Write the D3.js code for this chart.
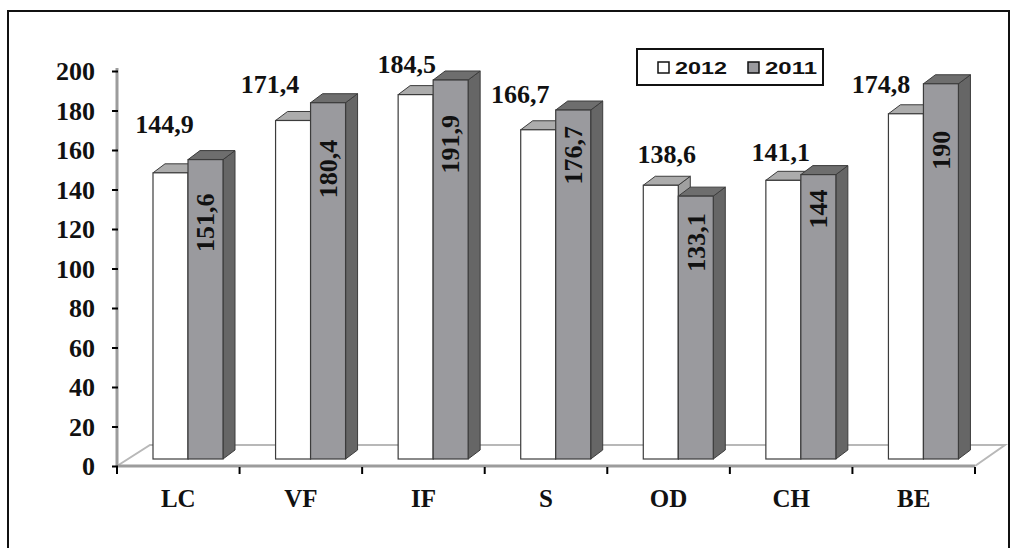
<!DOCTYPE html>
<html>
<head>
<meta charset="utf-8">
<script src="https://cdn.jsdelivr.net/npm/d3@7"></script>
<style>
  html, body { margin: 0; padding: 0; background: #fff; }
  svg { display: block; }
  .serif { font-family: "Liberation Serif", "Times New Roman", serif; font-weight: bold; fill: #111; }
  .sans { font-family: "Liberation Sans", Arial, sans-serif; font-weight: bold; fill: #111; }
</style>
</head>
<body>
<script>
// ---- data ----
const categories = ["LC", "VF", "IF", "S", "OD", "CH", "BE"];
const seriesNames = ["2012", "2011"];
const values2012 = [144.9, 171.4, 184.5, 166.7, 138.6, 141.1, 174.8];
const values2011 = [151.6, 180.4, 191.9, 176.7, 133.1, 144, 190];
const yTicks = [0, 20, 40, 60, 80, 100, 120, 140, 160, 180, 200];

// ---- layout ----
const W = 1018, H = 548;
const depth = { dx: 12, dy: -9 };           // 3D extrusion of each column
// hand-placed value labels: [dx from column centre, lift above column top]
const outerLabelNudge = [[-6, 40], [-23, 27], [-9, 22], [-18, 27], [6, 22], [-2.5, 19], [-25, 21]];
// gap between column top and the end of the rotated label
const innerLabelGap = [34, 37, 35, 16, 17, 15, 47];

const colors = {
  whiteFront: "#ffffff", whiteTop: "#acacac", whiteSide: "#a0a0a0",
  greyFront: "#9a9a9e", greyTop: "#6e6e6e", greySide: "#666666",
  edge: "#3c3c3c"
};

const fmt = v => String(v).replace(".", ",");

const svg = d3.select("body").append("svg").attr("width", W).attr("height", H);

// frame
svg.append("rect").attr("x", 8).attr("y", 11).attr("width", 1001).attr("height", 600)
  .attr("fill", "none").attr("stroke", "#111").attr("stroke-width", 2);

// scales
const x = d3.scaleBand().domain(categories).range([117, 975]).padding(0);
const y = d3.scaleLinear().domain([0, 200]).range([466, 71]);
// column front faces sit slightly back on the floor
const yBar = d3.scaleLinear().domain([0, 200]).range([459, 64]);
const sub = d3.scaleBand().domain(seriesNames).range([36, 106]).padding(0);

// floor
const fl = { x0: 117, x1: 975, y0: 466, back: 445, sx: 33, ex: 30 };
svg.append("path")
  .attr("d", `M${fl.x0},${fl.y0} L${fl.x0 + fl.sx},${fl.back} L${fl.x1 + fl.ex},${fl.back} L${fl.x1},${fl.y0}`)
  .attr("fill", "#fff").attr("stroke", "#b8b8b8").attr("stroke-width", 2);
svg.append("line").attr("x1", fl.x0).attr("x2", fl.x1).attr("y1", fl.y0).attr("y2", fl.y0)
  .attr("stroke", "#9c9c9c").attr("stroke-width", 3);

// value axis wall edge
svg.append("line").attr("x1", 117).attr("x2", 117).attr("y1", y(0)).attr("y2", y(200) - 3)
  .attr("stroke", "#9c9c9c").attr("stroke-width", 3);

// y axis ticks and labels
const yAxis = svg.append("g").attr("transform", "translate(118,0)")
  .call(d3.axisLeft(y).tickValues(yTicks).tickSize(6).tickPadding(17).tickFormat(d3.format("d")));
yAxis.select(".domain").remove();
yAxis.selectAll(".tick line").attr("stroke", "#000").attr("stroke-width", 2);
yAxis.selectAll(".tick text").attr("class", "serif").style("font-size", "26px").attr("dy", "0.34em");

// category axis
const xAxis = svg.append("g").attr("transform", `translate(0,${y(0)})`)
  .call(d3.axisBottom(x).tickSize(0).tickPadding(23));
xAxis.select(".domain").remove();
xAxis.selectAll(".tick text").attr("class", "serif").style("font-size", "25px");
const bounds = categories.map(c => x(c)).concat([x.range()[1]]);
svg.append("g").selectAll("line").data(bounds).join("line")
  .attr("x1", d => d).attr("x2", d => d).attr("y1", y(0) + 1).attr("y2", y(0) + 8)
  .attr("stroke", "#000").attr("stroke-width", 2);

// one extruded column
function column(g, x0, w, v, front, top, side) {
  const yt = yBar(v), yb = yBar(0), dx = depth.dx, dy = depth.dy;
  g.append("path")
    .attr("d", `M${x0 + w},${yt} L${x0 + w + dx},${yt + dy} L${x0 + w + dx},${yb + dy} L${x0 + w},${yb} Z`)
    .attr("fill", side).attr("stroke", colors.edge).attr("stroke-width", 1);
  g.append("path")
    .attr("d", `M${x0},${yt} L${x0 + dx},${yt + dy} L${x0 + w + dx},${yt + dy} L${x0 + w},${yt} Z`)
    .attr("fill", top).attr("stroke", colors.edge).attr("stroke-width", 1);
  g.append("rect").attr("x", x0).attr("y", yt).attr("width", w).attr("height", yb - yt)
    .attr("fill", front).attr("stroke", colors.edge).attr("stroke-width", 1.2);
}

const bars = svg.append("g");
categories.forEach((c, i) => {
  const g = bars.append("g");
  column(g, x(c) + sub("2012"), sub.bandwidth(), values2012[i], colors.whiteFront, colors.whiteTop, colors.whiteSide);
  column(g, x(c) + sub("2011"), sub.bandwidth(), values2011[i], colors.greyFront, colors.greyTop, colors.greySide);
});

// 2012 value labels above the columns
svg.append("g").selectAll("text").data(values2012).join("text")
  .attr("class", "serif").style("font-size", "26px").attr("text-anchor", "middle")
  .attr("x", (d, i) => x(categories[i]) + sub("2012") + sub.bandwidth() / 2 + outerLabelNudge[i][0])
  .attr("y", (d, i) => yBar(d) - outerLabelNudge[i][1])
  .text(fmt);

// 2011 value labels inside the columns, rotated
svg.append("g").selectAll("text").data(values2011).join("text")
  .attr("class", "serif").style("font-size", "26px").attr("text-anchor", "end").attr("dy", "0.34em")
  .attr("transform", (d, i) =>
    `translate(${x(categories[i]) + sub("2011") + sub.bandwidth() / 2},${yBar(d) + innerLabelGap[i]}) rotate(-90)`)
  .text(fmt);

// legend
const lg = svg.append("g");
lg.append("rect").attr("x", 637).attr("y", 49).attr("width", 186).attr("height", 36)
  .attr("fill", "#fff").attr("stroke", "#111").attr("stroke-width", 2);
const legendItems = [
  { name: seriesNames[0], fill: colors.whiteFront, sx: 658, tx: 675 },
  { name: seriesNames[1], fill: colors.greyFront, sx: 748, tx: 765 }
];
legendItems.forEach(it => {
  lg.append("rect").attr("x", it.sx).attr("y", 62).attr("width", 11).attr("height", 11)
    .attr("fill", it.fill).attr("stroke", "#111").attr("stroke-width", 1.5);
  lg.append("text").attr("class", "sans").style("font-size", "17px")
    .attr("x", it.tx).attr("y", 74).attr("textLength", 52).attr("lengthAdjust", "spacingAndGlyphs")
    .text(it.name);
});
</script>
</body>
</html>
